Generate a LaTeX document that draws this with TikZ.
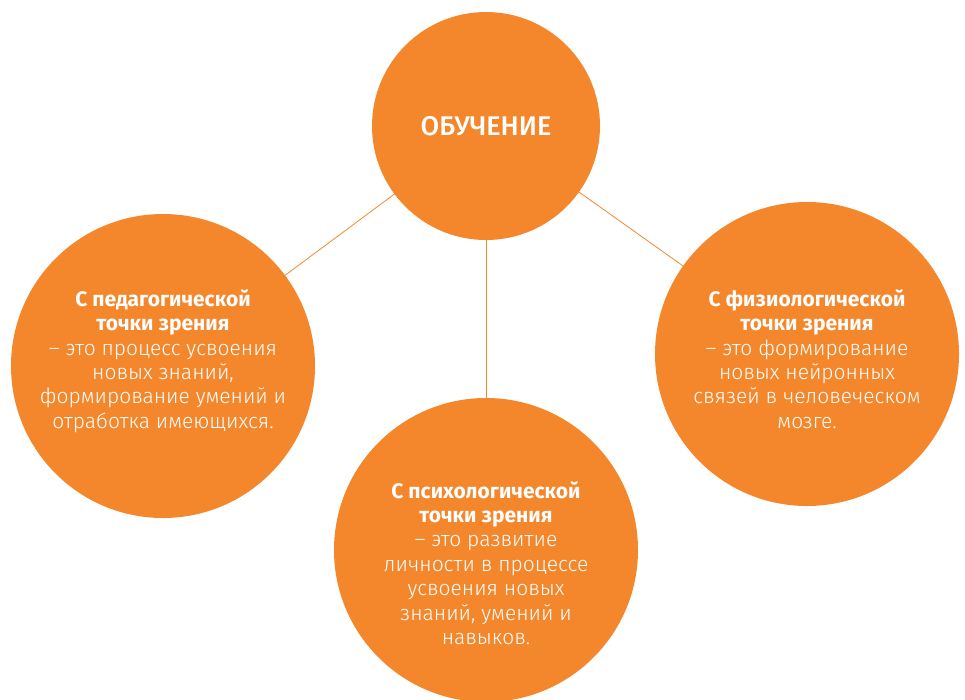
\documentclass[tikz,border=0pt]{standalone}
\usepackage{fontspec}
\setmainfont{Fira Sans}
\newfontfamily\lightfont{Fira Sans Light}
\newfontfamily\medfont{Fira Sans Medium}
\newfontfamily\headfont{Fira Sans}
\newcommand{\hd}[1]{{\headfont\bfseries #1}}
\usetikzlibrary{positioning, calc}
\definecolor{orng}{RGB}{244,135,44}

\begin{document}
\begin{tikzpicture}[x=1pt, y=-1pt,
    circ/.style={circle, fill=orng, inner sep=0pt, minimum size=#1},
    txt/.style={text=white, align=center, font=\fontsize{21}{24.4}\selectfont\lightfont},
    link/.style={draw=orng, line width=0.8pt}]
\useasboundingbox (0,0) rectangle (965,699);
\clip (0,0) rectangle (965,699);

% Connectors (drawn first, circles go on top)
\coordinate (ctop) at (486,126);
\coordinate (cped) at (163,366);
\coordinate (cfiz) at (807,354);
\coordinate (cpsy) at (486,550);
\draw[link] (ctop) -- (cped);
\draw[link] (ctop) -- (cfiz);
\draw[link] (ctop) -- (cpsy);

% Circles
\node[circ=228pt] (obuch) at (ctop) {};
\node[circ=304pt] (ped) at (cped) {};
\node[circ=304pt] (fiz) at (cfiz) {};
\node[circ=304pt] (psy) at (cpsy) {};

% Texts
\node[text=white, font=\fontsize{27}{30}\selectfont\medfont] (obuchtxt) at (obuch.center) {ОБУЧЕНИЕ};
\node[txt] (pedtxt) at ([yshift=5pt]ped.center) {\hd{С педагогической}\\\hd{точки зрения}\\– это процесс усвоения\\новых знаний,\\формирование умений и\\отработка имеющихся.};
\node[txt] (fiztxt) at ([yshift=-5pt]fiz.center) {\hd{С физиологической}\\\hd{точки зрения}\\– это формирование\\новых нейронных\\связей в человеческом\\мозге.};
\node[txt] (psytxt) at ([yshift=-13pt]psy.center) {\hd{С психологической}\\\hd{точки зрения}\\– это развитие\\личности в процессе\\усвоения новых\\знаний, умений и\\навыков.};

\end{tikzpicture}
\end{document}
